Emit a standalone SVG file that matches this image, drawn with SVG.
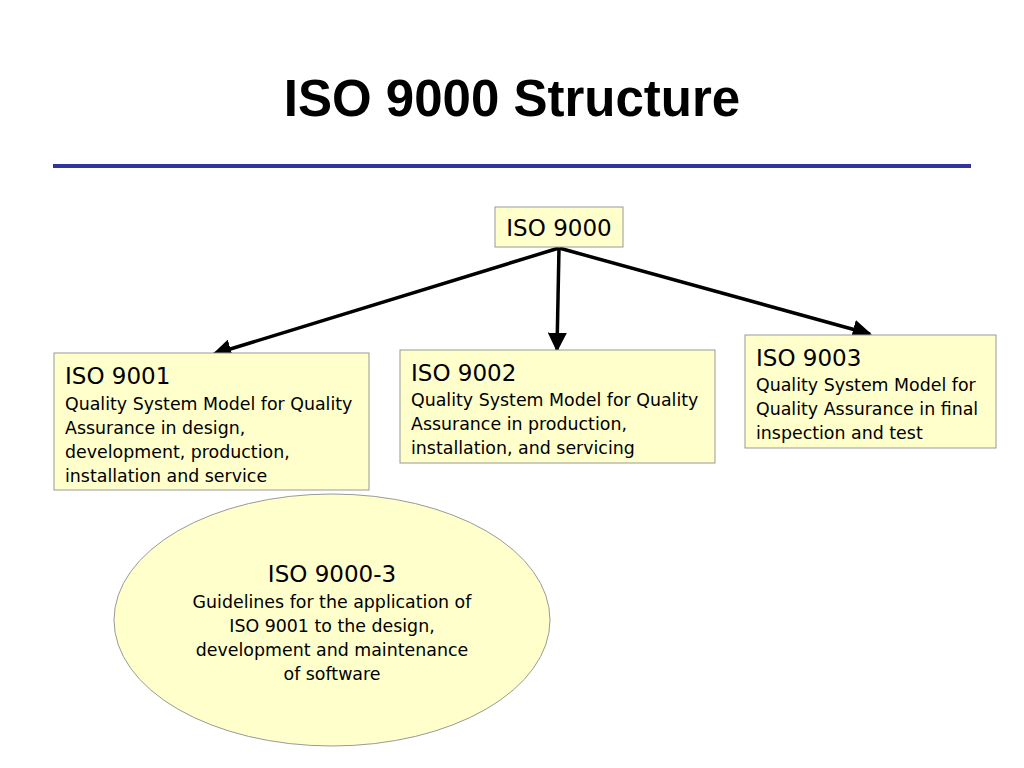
<svg xmlns="http://www.w3.org/2000/svg" width="1024" height="768" viewBox="0 0 1024 768">
<defs>
<style>
.box{fill:#ffffcc;stroke:#999999;stroke-width:1}
.h{font-family:"DejaVu Sans",Verdana,sans-serif;font-size:23px;fill:#000}
.t{font-family:"DejaVu Sans",Verdana,sans-serif;font-size:17.4px;fill:#000}
.c{stroke:#000;stroke-width:3.5;fill:none;marker-end:url(#ah)}
</style>
<marker id="ah" viewBox="0 0 10 10" refX="9" refY="5" markerWidth="5.5" markerHeight="5.5" orient="auto" markerUnits="strokeWidth">
<path d="M0,0 L10,5 L0,10 z" fill="#000"/>
</marker>
</defs>
<rect width="1024" height="768" fill="#fff"/>
<text x="512" y="116" text-anchor="middle" font-family="'Liberation Sans',Arial,sans-serif" font-weight="bold" font-size="51">ISO 9000 Structure</text>
<line x1="53" y1="166" x2="971" y2="166" stroke="#3333a0" stroke-width="4"/>
<g id="connectors">
<line class="c" x1="559" y1="248" x2="214" y2="354"/>
<line class="c" x1="559" y1="248" x2="557" y2="350"/>
<line class="c" x1="559" y1="248" x2="870" y2="334"/>
</g>
<g id="iso9000">
<rect class="box" x="495" y="207" width="128" height="40"/>
<text class="h" x="559" y="236" text-anchor="middle">ISO 9000</text>
</g>
<g id="iso9001">
<rect class="box" x="54" y="353" width="315" height="137"/>
<text class="h" x="65" y="384">ISO 9001</text>
<text class="t" x="65" y="410">Quality System Model for Quality</text>
<text class="t" x="65" y="434">Assurance in design,</text>
<text class="t" x="65" y="458">development, production,</text>
<text class="t" x="65" y="482">installation and service</text>
</g>
<g id="iso9002">
<rect class="box" x="400" y="350" width="315" height="113"/>
<text class="h" x="411" y="381">ISO 9002</text>
<text class="t" x="411" y="406">Quality System Model for Quality</text>
<text class="t" x="411" y="430">Assurance in production,</text>
<text class="t" x="411" y="454">installation, and servicing</text>
</g>
<g id="iso9003">
<rect class="box" x="745" y="335" width="251" height="113"/>
<text class="h" x="756" y="366">ISO 9003</text>
<text class="t" x="756" y="391">Quality System Model for</text>
<text class="t" x="756" y="415">Quality Assurance in final</text>
<text class="t" x="756" y="439">inspection and test</text>
</g>
<g id="iso9000-3">
<ellipse class="box" cx="332" cy="620" rx="218" ry="126"/>
<text class="h" x="332" y="582" text-anchor="middle">ISO 9000-3</text>
<text class="t" x="332" y="608" text-anchor="middle">Guidelines for the application of</text>
<text class="t" x="332" y="632" text-anchor="middle">ISO 9001 to the design,</text>
<text class="t" x="332" y="656" text-anchor="middle">development and maintenance</text>
<text class="t" x="332" y="680" text-anchor="middle">of software</text>
</g>
</svg>
